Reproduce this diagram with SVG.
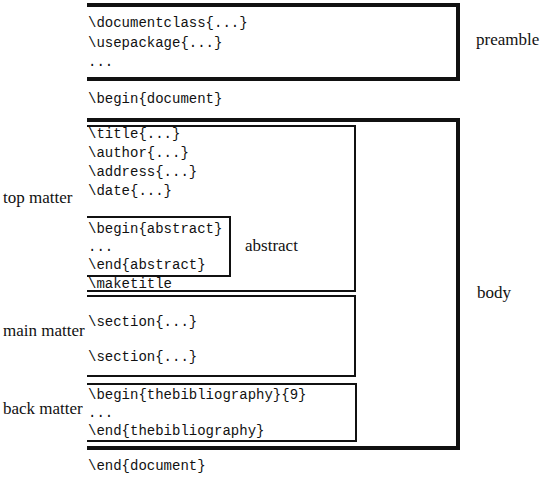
<svg xmlns="http://www.w3.org/2000/svg" width="540" height="477" viewBox="0 0 540 477">
<style>
.m{font-family:"Liberation Mono","DejaVu Sans Mono",monospace;font-size:14px;fill:#111}
.s{font-family:"Times New Roman","Liberation Serif","DejaVu Serif",serif;font-size:17px;fill:#111}
.o{fill:none;stroke:#111;stroke-width:4;stroke-linejoin:miter}
.i{fill:none;stroke:#111;stroke-width:2;stroke-linejoin:miter}
</style>
<rect width="540" height="477" fill="#fff"/>
<g id="preamble">
<path class="o" d="M87,5 H458 V79 H87"/>
<text class="m" x="88" y="27">\documentclass{...}</text>
<text class="m" x="88" y="47">\usepackage{...}</text>
<text class="m" x="88" y="66">...</text>
<text class="s" x="476" y="45" font-family="Liberation Serif, serif">preamble</text>
</g>
<text class="m" x="88" y="103">\begin{document}</text>
<g id="body">
<path class="o" d="M87,120 H458 V448 H87"/>
<text class="s" x="477" y="298" font-family="Liberation Serif, serif">body</text>
</g>
<g id="topmatter">
<path class="i" d="M87,126 H355 V291 H87"/>
<text class="m" x="88" y="138">\title{...}</text>
<text class="m" x="88" y="157">\author{...}</text>
<text class="m" x="88" y="176">\address{...}</text>
<text class="m" x="88" y="195">\date{...}</text>
<text class="m" x="88" y="288">\maketitle</text>
<text class="s" x="3" y="203" font-family="Liberation Serif, serif">top matter</text>
</g>
<g id="abstract">
<path class="i" d="M87,217 H230 V276 H87"/>
<text class="m" x="88" y="233">\begin{abstract}</text>
<text class="m" x="88" y="251">...</text>
<text class="m" x="88" y="269">\end{abstract}</text>
<text class="s" x="245" y="251" font-family="Liberation Serif, serif">abstract</text>
</g>
<g id="mainmatter">
<path class="i" d="M87,296 H355 V376 H87"/>
<text class="m" x="88" y="326">\section{...}</text>
<text class="m" x="88" y="361">\section{...}</text>
<text class="s" x="3" y="336" font-family="Liberation Serif, serif">main matter</text>
</g>
<g id="backmatter">
<path class="i" d="M87,384 H356 V441 H87"/>
<text class="m" x="88" y="399">\begin{thebibliography}{9}</text>
<text class="m" x="88" y="417">...</text>
<text class="m" x="88" y="435">\end{thebibliography}</text>
<text class="s" x="3" y="414" font-family="Liberation Serif, serif">back matter</text>
</g>
<text class="m" x="88" y="470">\end{document}</text>
<g id="connectors"></g>
</svg>
